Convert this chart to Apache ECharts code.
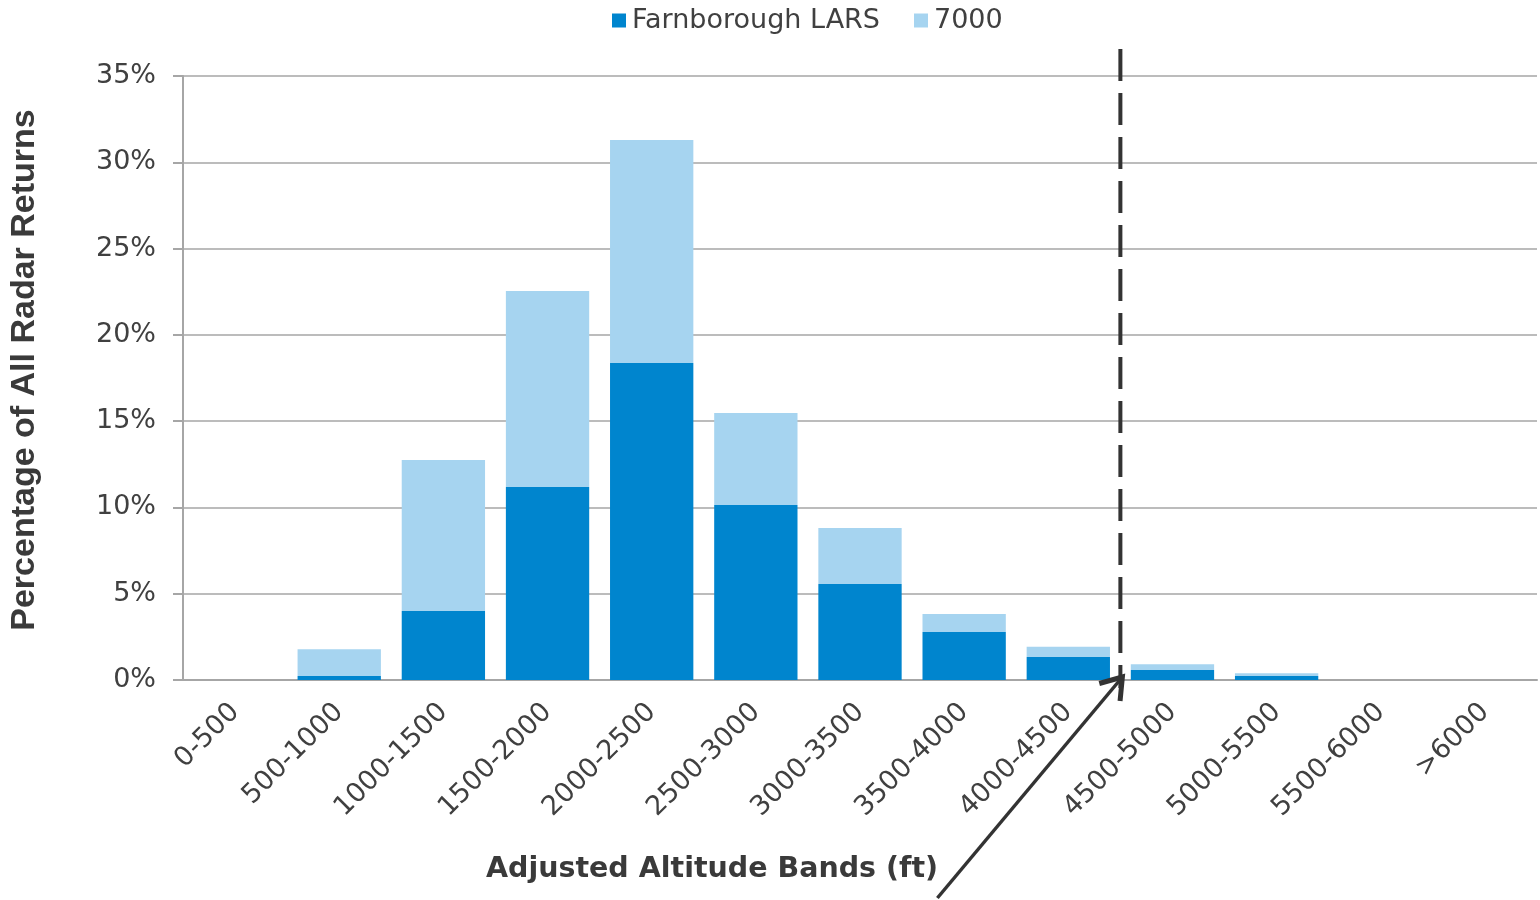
<!DOCTYPE html>
<html>
<head>
<meta charset="utf-8">
<script src="https://cdn.jsdelivr.net/npm/echarts@6/dist/echarts.min.js"></script>
<style>html,body{margin:0;padding:0;background:#fff;}#c{width:1540px;height:900px;}</style>
</head>
<body>
<div id="c"></div>
<script>
const categories = ['0-500','500-1000','1000-1500','1500-2000','2000-2500','2500-3000','3000-3500','3500-4000','4000-4500','4500-5000','5000-5500','5500-6000','>6000'];
const farnborough = [0, 0.23, 4.0, 11.18, 18.37, 10.14, 5.56, 2.78, 1.33, 0.58, 0.23, 0, 0];
const squawk7000 = [0, 1.55, 8.75, 11.36, 12.92, 5.33, 3.25, 1.04, 0.6, 0.33, 0.16, 0, 0];
const seriesNames = ['Farnborough LARS', '7000'];
const yMax = 35, yInterval = 5;
const markerBoundary = ['4000-4500', '4500-5000'];
const xTitle = 'Adjusted Altitude Bands (ft)';
const yTitle = 'Percentage of All Radar Returns';

const chart = echarts.init(document.getElementById('c'));
const txt = '#404040';
chart.setOption({
  animation: false,
  grid: { left: 183, right: 3, top: 76, bottom: 220, containLabel: false },
  legend: {
    top: 2, left: 607,
    itemWidth: 14, itemHeight: 14, itemGap: 34,
    icon: 'rect',
    textStyle: { fontFamily: 'DejaVu Sans', fontSize: 27, color: txt, padding: [0,0,0,1] },
    data: seriesNames
  },
  xAxis: {
    type: 'category', data: categories,
    axisLine: { lineStyle: { color: '#A6A6A6', width: 2 } },
    axisTick: { length: 10, lineStyle: { color: '#A6A6A6', width: 2 } },
    axisLabel: { rotate: 45, interval: 0, margin: 28, fontFamily: 'DejaVu Sans', fontSize: 27, color: txt }
  },
  yAxis: {
    type: 'value', min: 0, max: yMax, interval: yInterval,
    axisLine: { show: true, lineStyle: { color: '#A6A6A6', width: 2 } },
    axisTick: { show: true, length: 10, lineStyle: { color: '#A6A6A6', width: 2 } },
    axisLabel: { formatter: '{value}%', margin: 27, fontFamily: 'DejaVu Sans', fontSize: 27, color: txt },
    splitLine: { lineStyle: { color: '#A6A6A6', width: 1.5 } }
  },
  series: [
    { name: seriesNames[0], type: 'bar', stack: 's', data: farnborough, barCategoryGap: '20%', itemStyle: { color: '#0085CE' } },
    { name: seriesNames[1], type: 'bar', stack: 's', data: squawk7000, itemStyle: { color: '#A6D4F0' } }
  ]
});

function addGraphics() {
  const p0 = chart.convertToPixel({ xAxisIndex: 0 }, markerBoundary[0]);
  const p1 = chart.convertToPixel({ xAxisIndex: 0 }, markerBoundary[1]);
  const bx = (p0 + p1) / 2;
  const yTop = chart.convertToPixel({ yAxisIndex: 0 }, yMax);
  const yZero = chart.convertToPixel({ yAxisIndex: 0 }, 0);
  const tip = [bx + 2, yZero - 3];
  const tail = [tip[0] - 185, tip[1] + 221];
  const ang = Math.atan2(tip[1] - tail[1], tip[0] - tail[0]);
  const hl = 24, spread = 0.6;
  const arm1 = [tip[0] - hl * Math.cos(ang - spread), tip[1] - hl * Math.sin(ang - spread)];
  const arm2 = [tip[0] - hl * Math.cos(ang + spread), tip[1] - hl * Math.sin(ang + spread)];
  chart.setOption({
    graphic: [
      { type: 'line', shape: { x1: bx, y1: yTop - 27, x2: bx, y2: yZero + 8 },
        style: { stroke: '#333333', lineWidth: 4, lineDash: [32, 12] }, z: 100 },
      { type: 'line', shape: { x1: tail[0], y1: tail[1], x2: tip[0], y2: tip[1] },
        style: { stroke: '#333333', lineWidth: 3.5 }, z: 101 },
      { type: 'polyline', shape: { points: [arm1, tip, arm2] },
        style: { stroke: '#333333', lineWidth: 5, fill: null, lineJoin: 'miter' }, z: 101 },
      { type: 'text', x: 712, y: 870, style: { text: xTitle, font: 'bold 28.5px "DejaVu Sans"', fill: '#3a3a3a', textAlign: 'center', textVerticalAlign: 'middle' } },
      { type: 'text', x: 25, y: 370, rotation: Math.PI / 2, style: { text: yTitle, font: 'bold 34px "Liberation Sans"', fill: '#3a3a3a', textAlign: 'center', textVerticalAlign: 'middle' } }
    ]
  });
}
addGraphics();
</script>
</body>
</html>
